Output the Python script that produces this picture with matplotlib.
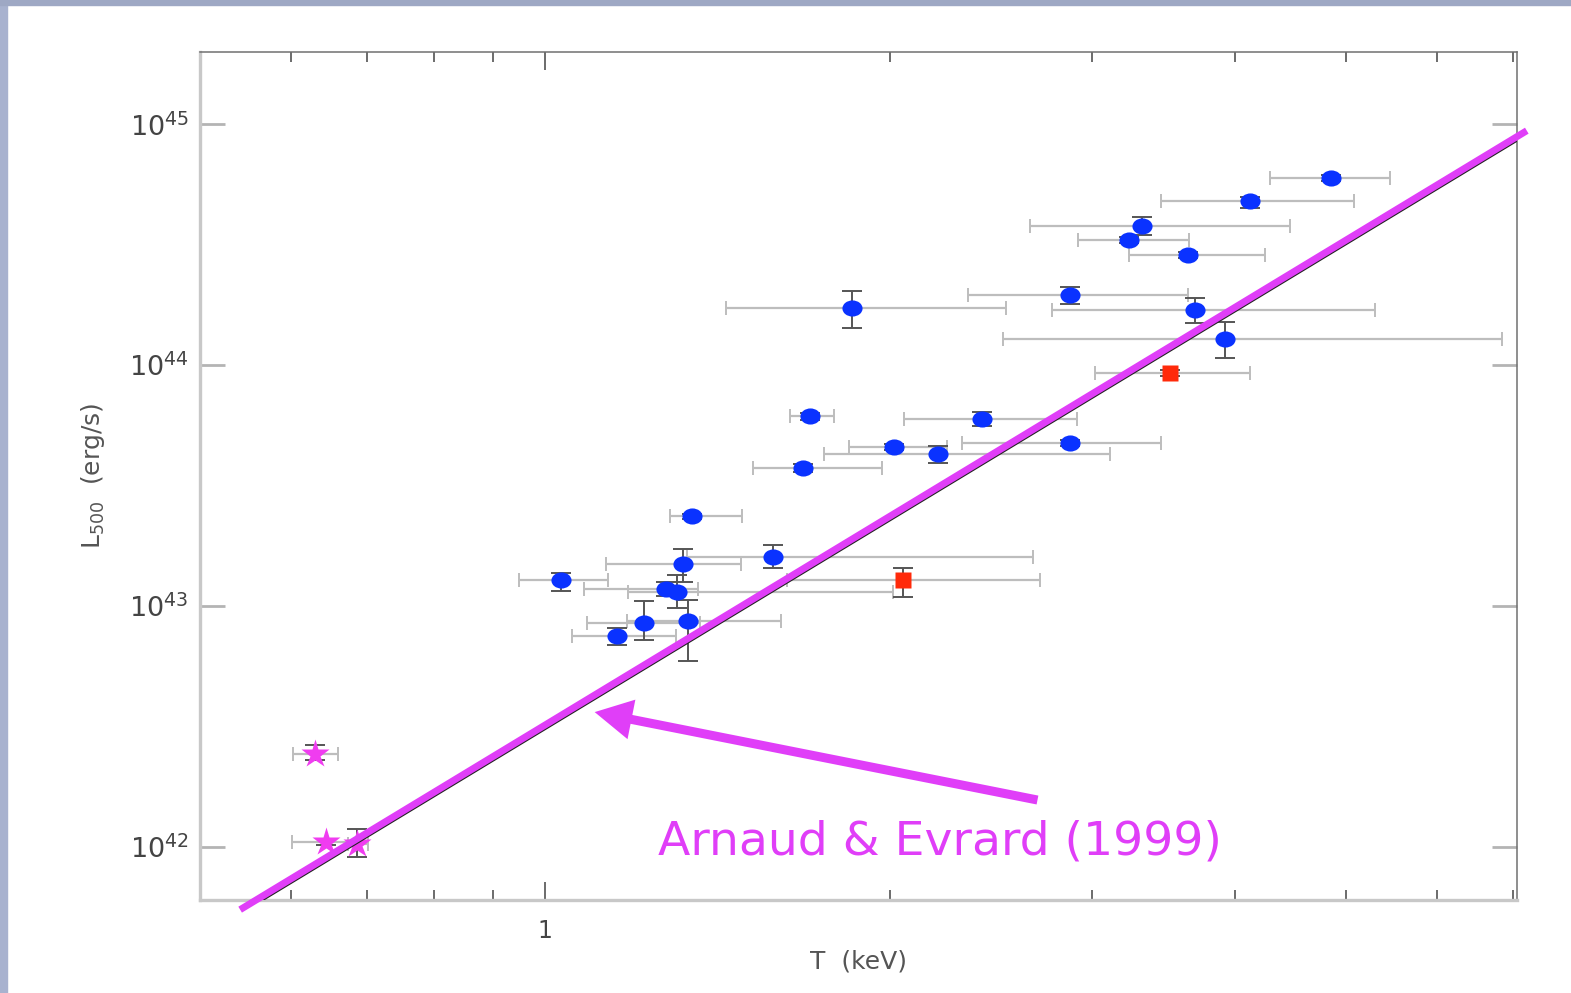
"""L500-T relation with Arnaud & Evrard (1999) line, slide-style annotation."""

import matplotlib

matplotlib.use("Agg")
import matplotlib.pyplot as plt
import numpy as np
from matplotlib.patches import FancyArrowPatch, Rectangle
from matplotlib.path import Path
from matplotlib.ticker import FixedLocator, FixedFormatter, NullFormatter, NullLocator
from matplotlib.transforms import Affine2D

# ---- data ------------------------------------------------------------------
# groups / clusters (blue circles): T [keV], L500 [erg/s], bounds of error bars
T_blue = [4.85, 4.12, 3.32, 3.23, 3.64, 2.87, 1.853, 3.69, 3.92, 1.703,
          2.406, 2.016, 2.87, 2.203, 1.679, 1.344, 1.581, 1.319, 1.033, 1.275,
          1.304, 1.22, 1.333, 1.156]
T_blue_lo = [4.29, 3.45, 2.65, 2.92, 3.23, 2.34, 1.439, 2.77, 2.51, 1.636,
             2.057, 1.842, 2.31, 1.752, 1.519, 1.286, 1.330, 1.130, 0.949, 1.081,
             1.181, 1.088, 1.179, 1.056]
T_blue_hi = [5.46, 5.08, 4.47, 3.65, 4.25, 3.64, 2.525, 5.30, 6.84, 1.787,
             2.91, 2.243, 3.45, 3.11, 1.968, 1.486, 2.666, 1.483, 1.135, 1.36,
             2.012, 1.366, 1.607, 1.301]
L_blue = [5.97e44, 4.79e44, 3.78e44, 3.30e44, 2.86e44, 1.95e44, 1.73e44,
          1.69e44, 1.29e44, 6.14e43, 5.97e43, 4.57e43, 4.74e43, 4.28e43,
          3.74e43, 2.36e43, 1.60e43, 1.49e43, 1.28e43, 1.18e43, 1.14e43,
          8.50e42, 8.67e42, 7.52e42]
L_blue_lo = [5.80e44, 4.50e44, 3.46e44, 3.20e44, 2.78e44, 1.79e44, 1.43e44,
             1.49e44, 1.07e44, 5.95e43, 5.60e43, 4.45e43, 4.60e43, 3.92e43,
             3.60e43, 2.30e43, 1.44e43, 1.26e43, 1.15e43, 1.10e43, 0.98e43,
             7.23e42, 5.92e42, 6.89e42]
L_blue_hi = [6.15e44, 5.00e44, 4.11e44, 3.40e44, 2.95e44, 2.11e44, 2.03e44,
             1.90e44, 1.51e44, 6.35e43, 6.40e43, 4.70e43, 4.90e43, 4.61e43,
             3.88e43, 2.42e43, 1.79e43, 1.73e43, 1.37e43, 1.26e43, 1.35e43,
             1.05e43, 1.06e43, 8.11e42]

# red squares
T_red = [3.51, 2.053]
T_red_lo = [3.02, 1.626]
T_red_hi = [4.12, 2.704]
L_red = [9.27e43, 1.28e43]
L_red_lo = [9.00e43, 1.09e43]
L_red_hi = [9.55e43, 1.44e43]

# magenta stars
T_star = [0.630, 0.644, 0.685]
T_star_lo = [0.603, 0.601, 0.673]
T_star_hi = [0.660, 0.690, 0.701]
L_star = [2.43e42, 1.05e42, 1.03e42]
L_star_lo = [2.30e42, 1.02e42, 0.91e42]
L_star_hi = [2.65e42, 1.08e42, 1.19e42]

# Arnaud & Evrard (1999): log L = norm + slope * log T
AE_NORM = 42.49
AE_SLOPE = 2.88

Y_TICKS = [1e42, 1e43, 1e44, 1e45]
Y_TICK_LABELS = [r"$10^{42}$", r"$10^{43}$", r"$10^{44}$", r"$10^{45}$"]
X_MINOR = [0.6, 0.7, 0.8, 0.9, 2, 3, 4, 5, 6, 7]

MAGENTA = "#e03ef8"
W, H = 1571, 993


def err(v, lo, hi):
    v, lo, hi = map(np.asarray, (v, lo, hi))
    return np.vstack([v - lo, hi - v])


def main():
    fig = plt.figure(figsize=(W / 100, H / 100), dpi=100)
    fig.patch.set_facecolor("white")
    # slide border
    fig.patches.append(Rectangle((0, 0), 7 / W, 1, transform=fig.transFigure,
                                 color="#a8b2cf", zorder=0))
    fig.patches.append(Rectangle((0, 1 - 5 / H), 1, 5 / H, transform=fig.transFigure,
                                 color="#9ea8c4", zorder=0))

    ax = fig.add_axes([200 / W, (H - 900) / H, 1317 / W, 848 / H])
    ax.set_xscale("log")
    ax.set_yscale("log")
    ax.set_xlim(0.5, 7.05)
    ax.set_ylim(10 ** 41.78, 10 ** 45.30)

    xcol, ycol = "#bdbdbd", "#555555"
    ellipse = Path.unit_circle().transformed(Affine2D().scale(1.25, 1.0))

    groups = [
        (T_blue, T_blue_lo, T_blue_hi, L_blue, L_blue_lo, L_blue_hi,
         dict(marker=ellipse, ms=14.5, color="#0a32ff")),
        (T_red, T_red_lo, T_red_hi, L_red, L_red_lo, L_red_hi,
         dict(marker="s", ms=11.5, color="#ff2a0a")),
        (T_star, T_star_lo, T_star_hi, L_star, L_star_lo, L_star_hi,
         dict(marker="*", ms=21, color="#f03cf0")),
    ]
    for T, Tlo, Thi, L, Llo, Lhi, st in groups:
        ax.errorbar(T, L, xerr=err(T, Tlo, Thi), fmt="none", ecolor=xcol,
                    elinewidth=1.6, capsize=5, capthick=1.4, zorder=2)
        ax.errorbar(T, L, yerr=err(L, Llo, Lhi), fmt="none", ecolor=ycol,
                    elinewidth=1.4, capsize=7, capthick=1.4, zorder=2)
        ax.plot(T, L, ls="none", mec="none", zorder=4, marker=st["marker"],
                ms=st["ms"], color=st["color"])

    # fit line (black) and the slide's magenta overlay
    tt = np.array([0.5, 7.05])
    ax.plot(tt, 10 ** (AE_NORM + AE_SLOPE * np.log10(tt)), color="#222222",
            lw=1.8, zorder=5)
    tm = np.array([0.542, 7.19])
    ax.plot(tm, 10 ** (AE_NORM + 0.016 + AE_SLOPE * np.log10(tm)), color=MAGENTA,
            lw=5, solid_capstyle="butt", zorder=6, clip_on=False)

    arrow = FancyArrowPatch((2.69, 10 ** 42.195), (1.105, 10 ** 42.56),
                            arrowstyle="simple,head_length=2.7,head_width=2.9,tail_width=0.65",
                            mutation_scale=10, color=MAGENTA, lw=0,
                            shrinkA=0, shrinkB=0, zorder=6, clip_on=False)
    ax.add_patch(arrow)
    ax.text(1.255, 10 ** 42.02, "Arnaud & Evrard (1999)", color=MAGENTA,
            fontsize=34, ha="left", va="center", zorder=6)

    # axes frame
    for side in ("left", "bottom"):
        ax.spines[side].set_color("#c8c8c8")
        ax.spines[side].set_linewidth(2.4)
    for side in ("top", "right"):
        ax.spines[side].set_color("#707070")
        ax.spines[side].set_linewidth(1.1)

    ax.xaxis.set_major_locator(FixedLocator([1]))
    ax.xaxis.set_major_formatter(FixedFormatter(["1"]))
    ax.xaxis.set_minor_locator(FixedLocator(X_MINOR))
    ax.xaxis.set_minor_formatter(NullFormatter())
    ax.yaxis.set_major_locator(FixedLocator(Y_TICKS))
    ax.yaxis.set_major_formatter(FixedFormatter(Y_TICK_LABELS))
    ax.yaxis.set_minor_locator(NullLocator())

    ax.tick_params(axis="x", which="both", direction="in", top=True, bottom=True,
                   color="#606060", width=1.3, labelsize=17, labelcolor="#444444")
    ax.tick_params(axis="x", which="major", length=13, pad=14)
    ax.tick_params(axis="x", which="minor", length=7)
    ax.tick_params(axis="y", which="major", direction="in", left=True, right=True,
                   color="#b4b4b4", width=2, length=18, pad=8,
                   labelsize=19.5, labelcolor="#444444")

    ax.set_xlabel("T  (keV)", fontsize=18, color="#555555", labelpad=4)
    ax.set_ylabel(r"L$_{500}$  (erg/s)", fontsize=18, color="#555555", labelpad=16)

    fig.savefig("out.png", dpi=100, facecolor="white")


if __name__ == "__main__":
    main()
